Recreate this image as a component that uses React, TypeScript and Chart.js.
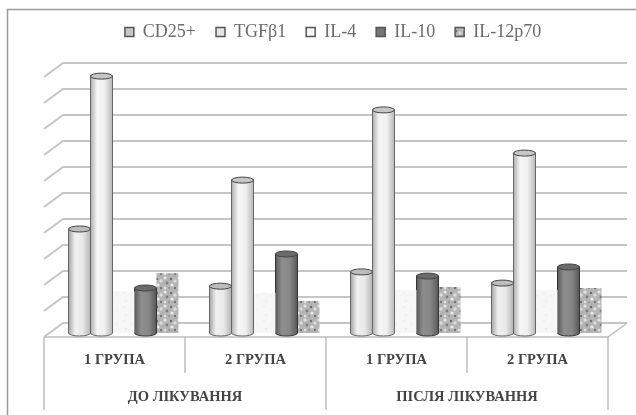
import React, { useEffect, useRef } from "react";
import { Chart, registerables } from "chart.js";

Chart.register(...registerables);

const groupLabels = ["1 ГРУПА", "2 ГРУПА", "1 ГРУПА", "2 ГРУПА"];
const periodLabels = ["ДО ЛІКУВАННЯ", "ПІСЛЯ ЛІКУВАННЯ"];
const cd25 = [4.0, 1.8, 2.35, 1.92];
const tgfb1 = [9.88, 5.88, 8.58, 6.92];
const il4 = [1.6, 1.55, 1.65, 1.65];
const il10 = [1.73, 3.04, 2.19, 2.54];
const il12p70 = [2.3, 1.23, 1.77, 1.73];

const SERIF = '"Liberation Serif", serif';

function speckle(bg: string, dots: [number, number, number, string][]) {
  const c = document.createElement("canvas");
  c.width = 14;
  c.height = 14;
  const g = c.getContext("2d")!;
  g.fillStyle = bg;
  g.fillRect(0, 0, 14, 14);
  for (const [x, y, r, col] of dots) {
    g.fillStyle = col;
    g.beginPath();
    g.arc(x, y, r, 0, Math.PI * 2);
    g.fill();
  }
  return g.createPattern(c, "repeat")!;
}

const cylinders: Record<string, { stops: string[]; top: string; line: string }> = {
  "CD25+": { stops: ["#a4a4a4", "#f1f1f1", "#e8e8e8", "#b4b4b4"], top: "#bdbdbd", line: "#666" },
  "TGFβ1": { stops: ["#aeaeae", "#f6f6f6", "#efefef", "#b8b8b8"], top: "#c6c6c6", line: "#666" },
  "IL-10": { stops: ["#5a5a5a", "#8e8e8e", "#868686", "#585858"], top: "#6a6a6a", line: "#333" },
};

const scene3d = {
  id: "scene3d",
  afterLayout(chart: any) {
    // the legend sits high above the plot and slightly right of centre
    const l = chart.legend;
    const h = l.bottom - l.top;
    l.top = 3;
    l.bottom = l.top + h;
    l.left += 7;
    l.right += 7;
  },
  beforeDraw(chart: any) {
    const { ctx, width, height } = chart;
    ctx.save();
    ctx.fillStyle = "#fff";
    ctx.fillRect(0, 0, width, height);
    ctx.strokeStyle = "#9a9a9a";
    ctx.lineWidth = 1.5;
    ctx.beginPath();
    ctx.moveTo(width, 9.5);
    ctx.lineTo(7.5, 9.5);
    ctx.lineTo(7.5, height);
    ctx.stroke();
    ctx.restore();
  },
  beforeDatasetsDraw(chart: any) {
    const { ctx, scales, chartArea: a } = chart;
    const dx = 19;
    const dy = 14;
    ctx.save();
    ctx.strokeStyle = "#c6c6c6";
    ctx.lineWidth = 2;
    for (const t of scales.y.ticks) {
      const py = scales.y.getPixelForValue(t.value);
      ctx.beginPath();
      ctx.moveTo(a.left, py);
      ctx.lineTo(a.left + dx, py - dy);
      ctx.lineTo(a.right + dx, py - dy);
      ctx.stroke();
    }
    // floor and category frame
    const b = a.bottom;
    ctx.strokeStyle = "#bdbdbd";
    ctx.lineWidth = 1.5;
    ctx.beginPath();
    ctx.moveTo(a.left, b);
    ctx.lineTo(a.right, b);
    ctx.lineTo(a.right + dx, b - dy);
    ctx.stroke();
    const edges = [0, 1, 2, 3, 4].map((i) => a.left + (i * (a.right - a.left)) / 4);
    edges.forEach((x, i) => {
      ctx.beginPath();
      ctx.moveTo(x, b);
      ctx.lineTo(x, i % 2 === 0 ? chart.height - 5 : scales.x.bottom);
      ctx.stroke();
    });
    ctx.restore();
    // bars stand inside the floor: shift them in depth
    ctx.save();
    ctx.translate(9, -4);
  },
  afterDatasetDraw(chart: any, args: any) {
    const { ctx } = chart;
    const label = chart.data.datasets[args.index].label;
    const style = cylinders[label];
    if (!style) return;
    for (const bar of args.meta.data) {
      const { x, y, base, width } = bar.getProps(["x", "y", "base", "width"], true);
      const l = x - width / 2;
      const r = x + width / 2;
      const rx = width / 2;
      const ry = 3;
      const g = ctx.createLinearGradient(l, 0, r, 0);
      g.addColorStop(0, style.stops[0]);
      g.addColorStop(0.3, style.stops[1]);
      g.addColorStop(0.65, style.stops[2]);
      g.addColorStop(1, style.stops[3]);
      ctx.save();
      ctx.beginPath();
      ctx.moveTo(l, y);
      ctx.lineTo(l, base);
      ctx.ellipse(x, base, rx, ry, 0, Math.PI, 0, true);
      ctx.lineTo(r, y);
      ctx.closePath();
      ctx.fillStyle = "#fff";
      ctx.fill();
      ctx.fillStyle = g;
      ctx.fill();
      ctx.strokeStyle = style.line;
      ctx.lineWidth = 1;
      ctx.stroke();
      ctx.beginPath();
      ctx.ellipse(x, y, rx, ry, 0, 0, Math.PI * 2);
      ctx.fillStyle = style.top;
      ctx.fill();
      ctx.strokeStyle = "#444";
      ctx.stroke();
      ctx.restore();
    }
  },
  afterDatasetsDraw(chart: any) {
    chart.ctx.restore();
  },
};

export default function App() {
  const ref = useRef<HTMLCanvasElement>(null);
  useEffect(() => {
    const pale = speckle("#f6f6f6", [
      [3, 3, 1, "#ececec"],
      [10, 6, 1, "#eeeeee"],
      [5, 11, 1, "#ebebeb"],
    ]);
    const mottled = speckle("#b4b4b4", [
      [2, 2, 1.6, "#e6e6e6"],
      [8, 3, 1.2, "#6c6c6c"],
      [12, 5, 1.7, "#dcdcdc"],
      [4, 7, 1.4, "#7e7e7e"],
      [9, 9, 1.6, "#ececec"],
      [2, 12, 1.3, "#e2e2e2"],
      [12, 12, 1, "#5e5e5e"],
      [6, 12, 1, "#909090"],
    ]);
    const chart = new Chart(ref.current!, {
      type: "bar",
      data: {
        labels: groupLabels,
        datasets: [
          { label: "CD25+", data: cd25, backgroundColor: "#c8c8c8", borderColor: "#555", borderWidth: 1, clip: false },
          { label: "TGFβ1", data: tgfb1, backgroundColor: "#e6e6e6", borderColor: "#555", borderWidth: 1, clip: false },
          { label: "IL-4", data: il4, backgroundColor: pale, borderColor: "#f4f4f4", borderWidth: 0, clip: false },
          { label: "IL-10", data: il10, backgroundColor: "#757575", borderColor: "#444", borderWidth: 1, clip: false },
          { label: "IL-12p70", data: il12p70, backgroundColor: mottled, borderColor: "#bbb", borderWidth: 0, clip: false },
        ] as any,
      },
      options: {
        responsive: false,
        animation: false,
        layout: { padding: { left: 44, right: 28, top: 29, bottom: 5 } },
        datasets: { bar: { categoryPercentage: 0.78, barPercentage: 1 } },
        plugins: {
          tooltip: { enabled: false },
          legend: {
            position: "top",
            labels: {
              color: "#6a6a6a",
              font: { family: SERIF, size: 18 },
              boxWidth: 9,
              boxHeight: 9,
              padding: 20,
              generateLabels: (c: any) =>
                c.data.datasets.map((d: any, i: number) => ({
                  text: d.label,
                  datasetIndex: i,
                  fillStyle: d.backgroundColor,
                  strokeStyle: "#555",
                  lineWidth: 1.5,
                  fontColor: "#6a6a6a",
                })),
            },
          },
        },
        scales: {
          x: {
            type: "category",
            position: "bottom",
            weight: 1,
            grid: { display: false },
            border: { display: false },
            ticks: {
              color: "#444",
              font: { family: SERIF, size: 14.5, weight: "bold" },
              maxRotation: 0,
              autoSkip: false,
              padding: 7,
            },
            afterFit: (s: any) => {
              s.height = 36;
            },
          },
          x2: {
            type: "category",
            position: "bottom",
            weight: 2,
            labels: periodLabels,
            grid: { display: false },
            border: { display: false },
            ticks: {
              color: "#444",
              font: { family: SERIF, size: 14.5, weight: "bold" },
              maxRotation: 0,
              autoSkip: false,
              padding: 8,
            },
            afterFit: (s: any) => {
              s.height = 37;
            },
          },
          y: {
            min: 0,
            max: 10,
            grid: { display: false },
            border: { display: false },
            ticks: { display: false, stepSize: 1 },
            afterFit: (s: any) => {
              s.width = 0;
            },
          },
        },
      } as any,
      plugins: [scene3d],
    });
    return () => chart.destroy();
  }, []);
  return (
    <div style={{ position: "fixed", left: 0, top: 0, width: 636, height: 415 }}>
      <canvas ref={ref} width={636} height={415} style={{ display: "block", filter: "blur(0.4px)" }} />
    </div>
  );
}
